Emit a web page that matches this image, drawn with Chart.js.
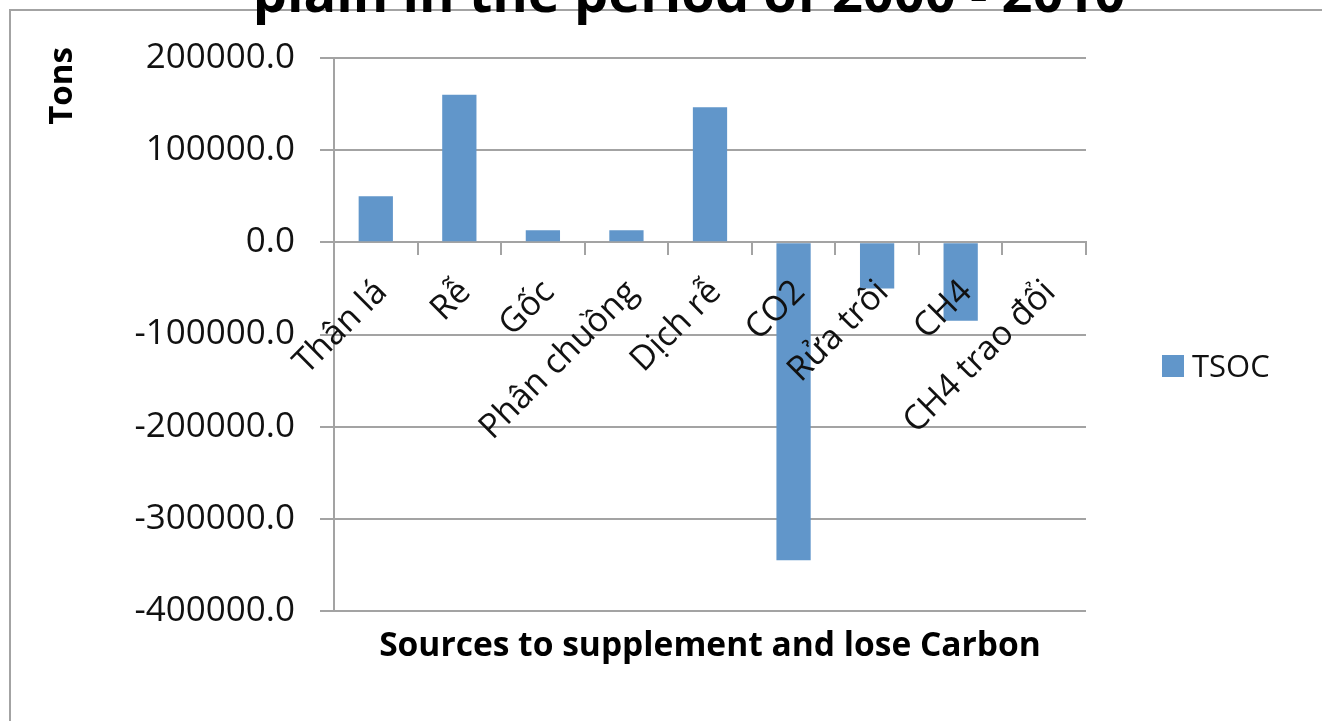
<!DOCTYPE html>
<html>
<head>
<meta charset="utf-8">
<script src="https://cdn.jsdelivr.net/npm/chart.js@4.4.1/dist/chart.umd.min.js"></script>
<style>
  html, body { margin: 0; padding: 0; background: #fff; overflow: hidden; }
  #wrap { position: relative; width: 1322px; height: 721px; overflow: hidden; }
  #frame { position: absolute; left: 9px; top: 9px; right: -20px; bottom: -20px;
           border-left: 2px solid #a3a3a3; border-top: 2px solid #a3a3a3; }
  canvas { position: absolute; left: 0; top: 0; }
</style>
</head>
<body>
<div id="wrap">
  <div id="frame"></div>
  <canvas id="c" width="1322" height="721"></canvas>
</div>
<script>
// Carbon supplement / loss sources (tons)
const categories = ['Thân lá', 'Rễ', 'Gốc', 'Phân chuồng', 'Dịch rễ', 'CO2', 'Rửa trôi', 'CH4', 'CH4 trao đổi'];
const tsocValues = [50000, 160000, 13000, 13000, 146500, -345000, -50000, -85000, 0];
const yTickValues = [200000, 100000, 0, -100000, -200000, -300000, -400000];
const seriesName = 'TSOC';
const chartTitle = 'plain in the period of 2000 - 2010';
const xAxisTitle = 'Sources to supplement and lose Carbon';
const yAxisTitle = 'Tons';

const FAMILY = '"Open Sans", sans-serif';
const AXIS_GREY = '#a3a3a3';
const BAR_BLUE = '#6196ca';
const TEXT = '#111111';

// font size that makes a string span the given width
function fitSize(ctx, text, weight, width) {
  ctx.font = weight + ' 100px ' + FAMILY;
  return 100 * width / ctx.measureText(text).width;
}

// titles and legend drawn on top of the chart
const decorations = {
  id: 'decorations',
  afterDraw(chart) {
    const ctx = chart.ctx;
    const area = chart.chartArea;
    ctx.save();
    ctx.fillStyle = '#000';
    ctx.textBaseline = 'alphabetic';
    ctx.textAlign = 'center';

    let size = fitSize(ctx, chartTitle, 'bold', 873);
    ctx.font = 'bold ' + size + 'px ' + FAMILY;
    ctx.fillText(chartTitle, 689, 12);

    size = fitSize(ctx, xAxisTitle, 'bold', 662);
    ctx.font = 'bold ' + size + 'px ' + FAMILY;
    ctx.fillText(xAxisTitle, (area.left + area.right) / 2, 656);

    ctx.save();
    ctx.translate(63, 86);
    ctx.rotate(-Math.PI / 2);
    ctx.font = 'bold 33px ' + FAMILY;
    ctx.textBaseline = 'middle';
    ctx.fillText(yAxisTitle, 0, 0);
    ctx.restore();

    // legend
    const ds = chart.data.datasets[0];
    ctx.fillStyle = ds.backgroundColor;
    ctx.fillRect(1162, 355, 22, 22);
    ctx.fillStyle = TEXT;
    ctx.textAlign = 'left';
    ctx.font = '31px ' + FAMILY;
    ctx.fillText(ds.label, 1192, 377);
    ctx.restore();
  }
};

function draw() {
  new Chart(document.getElementById('c'), {
    type: 'bar',
    data: {
      labels: categories,
      datasets: [{
        label: seriesName,
        data: tsocValues,
        backgroundColor: BAR_BLUE,
        borderWidth: 0,
        barPercentage: 0.41,
        categoryPercentage: 1
      }]
    },
    options: {
      responsive: false,
      animation: false,
      devicePixelRatio: 1,
      layout: { padding: { top: 58, bottom: 110, left: 0, right: 236 } },
      plugins: {
        legend: { display: false },
        title: { display: false },
        tooltip: { enabled: false }
      },
      scales: {
        x: {
          position: { y: 0 },
          grid: {
            display: true, offset: true, drawOnChartArea: false, drawTicks: true,
            tickLength: 12, color: AXIS_GREY, lineWidth: 2
          },
          border: { display: true, color: AXIS_GREY, width: 2 },
          ticks: {
            z: 1,
            autoSkip: false, minRotation: 45, maxRotation: 45,
            padding: 18, labelOffset: 6,
            color: TEXT, font: { family: FAMILY, size: 34 }
          }
        },
        y: {
          min: -400000,
          max: 200000,
          afterBuildTicks(scale) { scale.ticks = yTickValues.map(v => ({ value: v })); },
          afterFit(scale) { scale.width = 334; },
          grid: { color: AXIS_GREY, lineWidth: 2, tickLength: 14 },
          border: { display: true, color: AXIS_GREY, width: 2 },
          ticks: {
            padding: 25, color: TEXT,
            font: { family: FAMILY, size: 35 },
            callback: v => Number(v).toFixed(1)
          }
        }
      }
    },
    plugins: [decorations]
  });
}

Promise.all([
  document.fonts.load('35px "Open Sans"'),
  document.fonts.load('bold 35px "Open Sans"')
]).then(draw, draw);
</script>
</body>
</html>
